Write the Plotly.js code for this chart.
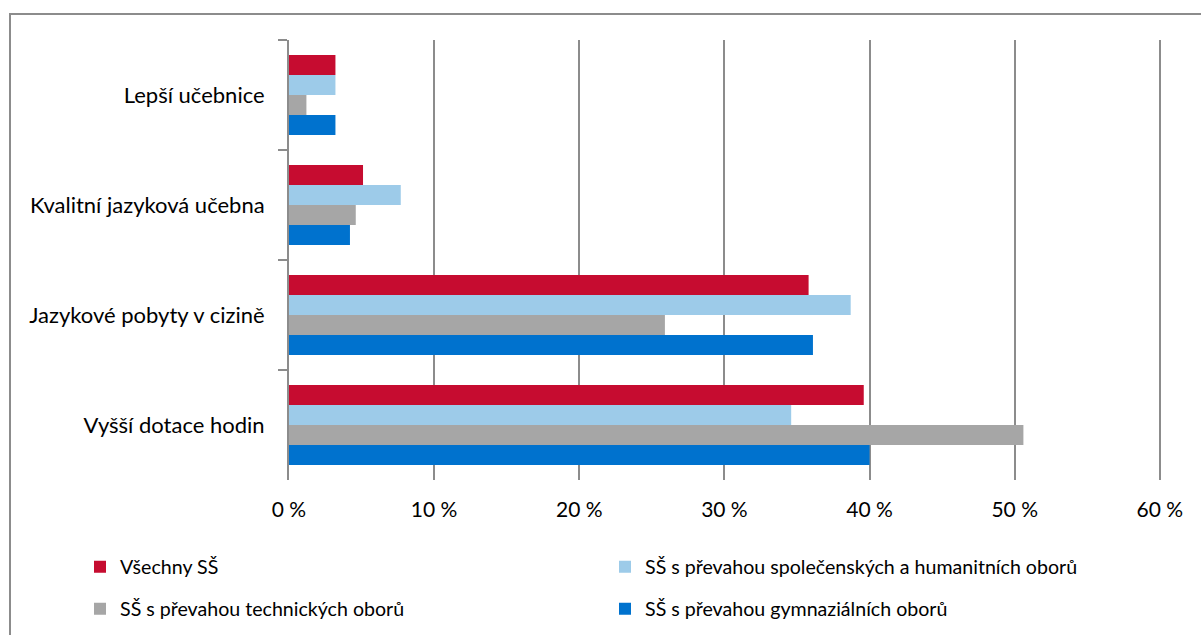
<!DOCTYPE html>
<html><head><meta charset="utf-8">
<script src="https://cdn.plot.ly/plotly-3.0.1.min.js"></script>
<style>
html,body{margin:0;padding:0;background:#fff;}
#wrap{position:relative;width:1201px;height:635px;}
#chart{position:absolute;left:0;top:0;width:1201px;height:635px;}
#frame{position:absolute;left:9px;top:13px;width:1200px;height:640px;border-left:2px solid #8c8c8c;border-top:2px solid #8c8c8c;pointer-events:none;}
</style></head>
<body><div id="wrap"><div id="chart"></div><div id="frame"></div></div>
<script>
const categories = ['Lepší učebnice', 'Kvalitní jazyková učebna', 'Jazykové pobyty v cizině', 'Vyšší dotace hodin'];
const seriesNames = ['Všechny SŠ', 'SŠ s převahou společenských a humanitních oborů', 'SŠ s převahou technických oborů', 'SŠ s převahou gymnaziálních oborů'];
const vsechny = [3.2, 5.1, 35.8, 39.6];
const spolecenske = [3.2, 7.7, 38.7, 34.6];
const technicke = [1.2, 4.6, 25.9, 50.6];
const gymnazialni = [3.2, 4.2, 36.1, 40.0];
const tickVals = [0, 10, 20, 30, 40, 50, 60];
const tickText = ['0 %', '10 %', '20 %', '30 %', '40 %', '50 %', '60 %'];

const colors = ['#C60C30', '#9DCBE9', '#A6A6A6', '#0072CE'];
const values = [vsechny, spolecenske, technicke, gymnazialni];
const legendIds = ['legend', 'legend2', 'legend3', 'legend4'];
const FONT = 'Lato, "Open Sans", sans-serif';

const traces = values.map((v, i) => ({
  type: 'bar', orientation: 'h', name: seriesNames[i],
  x: v, y: categories, legend: legendIds[i],
  marker: {color: colors[i], line: {width: 0}},
  hoverinfo: 'x+name'
}));

const W = 1201, H = 635, L = 289, R = 40, T = 40, B = 155;

const legendCommon = {
  orientation: 'h', xanchor: 'left', yanchor: 'middle',
  xref: 'container', yref: 'container',
  font: {family: FONT, size: 19.6, color: '#000'},
  bgcolor: 'rgba(0,0,0,0)', borderwidth: 0
};
const legendPos = [[80, 567], [605, 567], [80, 609], [605, 609]];
const legends = {};
legendIds.forEach((id, i) => {
  legends[id] = Object.assign({}, legendCommon, {x: legendPos[i][0] / W, y: 1 - legendPos[i][1] / H});
});

const layout = Object.assign({
  width: W, height: H,
  margin: {l: L, r: R, t: T, b: B, pad: 0},
  paper_bgcolor: '#fff', plot_bgcolor: '#fff',
  barmode: 'group', bargap: 0.273, bargroupgap: 0,
  font: {family: FONT, size: 20, color: '#000'},
  xaxis: {
    range: [0, 60.08], tickvals: tickVals, ticktext: tickText,
    showgrid: true, gridcolor: '#8c8c8c', gridwidth: 2,
    zeroline: false, showline: false, automargin: false,
    ticks: '', ticklabelstandoff: 15,
    tickfont: {family: FONT, size: 21, color: '#000'},
    fixedrange: true
  },
  yaxis: {
    type: 'category', autorange: 'reversed', automargin: false,
    showgrid: false, zeroline: false,
    showline: true, linecolor: '#8c8c8c', linewidth: 2,
    ticks: 'outside', tickson: 'boundaries', ticklen: 9, tickwidth: 2, tickcolor: '#8c8c8c',
    ticklabelstandoff: 18,
    tickfont: {family: FONT, size: 22, color: '#000'},
    fixedrange: true
  },
  showlegend: true
}, legends);

Plotly.newPlot('chart', traces, layout, {displayModeBar: false, staticPlot: true});
</script></body></html>
